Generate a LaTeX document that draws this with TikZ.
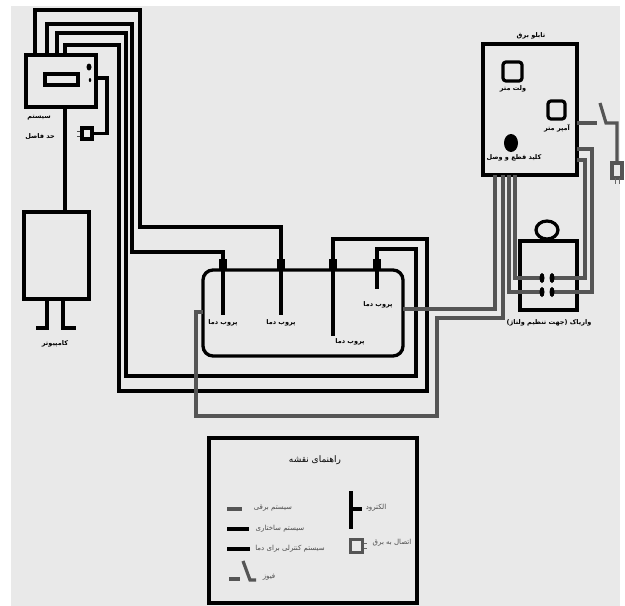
\documentclass[tikz,border=0pt]{standalone}
\usepackage{fontspec}
\TeXXeTstate=1
\newfontfamily\arabicfont[Script=Arabic]{DejaVu Sans}
\definecolor{bgc}{HTML}{E9E9E9}
\definecolor{wirec}{HTML}{555555}
\usetikzlibrary{shapes.geometric}
\tikzset{
  blk/.style={draw=black,line width=3.3pt,line join=miter},
  probewire/.style={draw=black,line width=3.2pt},
  grw/.style={draw=wirec,line width=3.2pt,line join=miter},
  lbl/.style={font=\arabicfont\bfseries\fontsize{6.5}{7}\selectfont,text=black,inner sep=0pt},
  glbl/.style={font=\arabicfont\fontsize{7}{8}\selectfont,text=black!70,inner sep=0pt},
  boxn/.style={draw=black,line width=3.3pt,minimum width=#1,inner sep=0pt,outer sep=0pt,anchor=north west},
  flange/.style={fill=black,minimum width=8pt,minimum height=11pt,inner sep=0pt,outer sep=0pt},
  contact/.style={ellipse,fill=black,minimum width=5pt,minimum height=10pt,inner sep=0pt},
}
\begin{document}
\begin{tikzpicture}[x=1pt,y=-1pt]
\useasboundingbox (0,0) rectangle (625,606);
\fill[white] (0,0) rectangle (625,606);
\fill[bgc] (11,6) rectangle (620,606);
% boxes
\node[boxn=70pt,minimum height=52pt] (ctrl) at (26,55) {};
\node[boxn=33pt,minimum height=11pt] (disp) at (45,74) {};
\node[fill=black,ellipse,minimum width=5pt,minimum height=7pt,inner sep=0pt] (led1) at (89,67) {};
\node[fill=black,ellipse,minimum width=2.5pt,minimum height=4pt,inner sep=0pt] (led2) at (90,80) {};
\node[boxn=65pt,minimum height=87pt] (comp) at (24,212) {};
\node[boxn=10pt,minimum height=11pt] (plugA) at (82,128) {};
\node[boxn=94pt,minimum height=131pt] (panel) at (483,44) {};
\node[draw=black,line width=3.2pt,rounded corners=3pt,minimum width=19pt,minimum height=19pt,inner sep=0pt,outer sep=0pt] (volt) at (512.5,71.5) {};
\node[draw=black,line width=3.2pt,rounded corners=3pt,minimum width=17pt,minimum height=18pt,inner sep=0pt,outer sep=0pt] (amp) at (556.5,110) {};
\node[fill=black,ellipse,minimum width=14pt,minimum height=18pt,inner sep=0pt] (knob) at (511,143) {};
\node[boxn=57pt,minimum height=69pt] (variac) at (520,241) {};
\node[draw=black,ellipse,line width=3.2pt,minimum width=22pt,minimum height=18pt,inner sep=0pt,outer sep=0pt] (dial) at (547,230) {};
\node[draw=black,line width=3.3pt,rounded corners=10pt,minimum width=200pt,minimum height=86pt,inner sep=0pt,outer sep=0pt,anchor=north west] (tank) at (203,270) {};
\node[boxn=208pt,minimum height=165pt] (legend) at (209,438) {};
\node[draw=wirec,line width=3.2pt,minimum width=10pt,minimum height=15pt,inner sep=0pt,outer sep=0pt] (plugB) at (617,170.5) {};
\node[draw=wirec,line width=3.2pt,minimum width=12pt,minimum height=13pt,inner sep=0pt,outer sep=0pt] (plugC) at (356.5,546) {};
% flanges
\node[flange] (f1) at (223,264.5) {};
\node[flange] (f2) at (281,264.5) {};
\node[flange] (f3) at (333,264.5) {};
\node[flange] (f4) at (377,264.5) {};
% probe ends
\coordinate (p1) at (223,315);
\coordinate (p2) at (281,315);
\coordinate (p3) at (333,336);
\coordinate (p4) at (377,289);
\draw[probewire] (f1.center) -- (p1);
\draw[probewire] (f2.center) -- (p2);
\draw[probewire] (f3.center) -- (p3);
\draw[probewire] (f4.center) -- (p4);
% control wires
\draw[blk] (35,55) -- (35,10) -- (140,10) -- (140,227) -- (281,227) -- (f2);
\draw[blk] (47,55) -- (47,24) -- (132,24) -- (132,252) -- (223,252) -- (f1);
\draw[blk] (57,55) -- (57,33) -- (126,33) -- (126,376) -- (416,376) -- (416,249) -- (377,249) -- (f4);
\draw[blk] (65,55) -- (65,45) -- (119,45) -- (119,391) -- (427,391) -- (427,239) -- (333,239) -- (f3);
% controller side
\draw[probewire] (65,107) -- (65,212);
\draw[blk] (96,78) -- (107,78) -- (107,133.5) -- (plugA.east);
\draw[black!70,line width=.6pt] (77,131.5) -- (80,131.5) (77,136) -- (80,136);
% computer legs
\draw[blk] (47,299) -- (47,328) -- (36,328);
\draw[blk] (63,299) -- (63,328) -- (76,328);
% grey wires
\draw[grw] (203,312) -- (196,312) -- (196,416) -- (437,416) -- (437,318) -- (503,318) -- (503,175);
\draw[grw] (403,309) -- (495,309) -- (495,175);
\draw[grw] (509,175) -- (509,292) -- (541,292);
\draw[grw] (515,175) -- (515,278) -- (541,278);
\draw[grw] (553,278) -- (585,278) -- (585,160) -- (577,160);
\draw[grw] (553,292) -- (592,292) -- (592,149) -- (577,149);
% contacts
\node[contact] (c1) at (542,278) {};
\node[contact] (c2) at (542,292) {};
\node[contact] (c3) at (552,278) {};
\node[contact] (c4) at (552,292) {};
% switch
\draw[grw] (577,123) -- (597,123);
\draw[grw] (600,103) -- (606,123) -- (617,123) -- (plugB.north);
\draw[black!60,line width=.7pt] (615.5,178) -- (615.5,184) (619,178) -- (619,184);
% labels
\node[lbl] (t1) at (39,118) {\beginR سیستم\endR};
\node[lbl] (t2) at (40,137) {\beginR حد فاصل\endR};
\node[lbl] (t3) at (55,344) {\beginR کامپیوتر\endR};
\node[lbl] (t4) at (531,36) {\beginR تابلو برق\endR};
\node[lbl] (t5) at (513,89) {\beginR ولت متر\endR};
\node[lbl] (t6) at (557,128) {\beginR آمپر متر\endR};
\node[lbl] (t7) at (514,158) {\beginR کلید قطع و وصل\endR};
\node[lbl] (t8) at (549,323) {\beginR واریاک (جهت تنظیم ولتاژ)\endR};
\node[lbl] (t9) at (223,323) {\beginR پروب دما\endR};
\node[lbl] (t10) at (281,323) {\beginR پروب دما\endR};
\node[lbl] (t11) at (350,342) {\beginR پروب دما\endR};
\node[lbl] (t12) at (378,305) {\beginR پروب دما\endR};
% legend
\node[font=\arabicfont\fontsize{9}{10}\selectfont,inner sep=0pt] (lt) at (315,460) {\beginR راهنمای نقشه\endR};
\coordinate (a1) at (227,509); \coordinate (a2) at (242,509);
\coordinate (b1) at (227,529); \coordinate (b2) at (249,529);
\coordinate (d1) at (227,549); \coordinate (d2) at (250,549);
\draw[grw,line width=4pt] (a1) -- (a2);
\draw[blk,line width=3.6pt] (b1) -- (b2);
\draw[blk,line width=3.6pt] (d1) -- (d2);
\node[glbl] (l1) at (273,508) {\beginR سیستم برقی\endR};
\node[glbl] (l2) at (280,529) {\beginR سیستم ساختاری\endR};
\node[glbl] (l3) at (290,549) {\beginR سیستم کنترلی برای دما\endR};
\node[glbl] (l4) at (269,577) {\beginR فیوز\endR};
\node[glbl] (l5) at (376,508) {\beginR الکترود\endR};
\node[glbl] (l6) at (392,543) {\beginR اتصال به برق\endR};
\coordinate (e1) at (351,491); \coordinate (e2) at (351,529);
\coordinate (e3) at (351,509); \coordinate (e4) at (362,509);
\draw[probewire] (e1) -- (e2);
\draw[probewire] (e3) -- (e4);
\coordinate (fa) at (229,579); \coordinate (fb) at (240,579);
\coordinate (fc) at (243,561); \coordinate (fd) at (250,580); \coordinate (fe) at (256,580);
\draw[grw] (fa) -- (fb);
\draw[grw] (fc) -- (fd) -- (fe);
\draw[black!60,line width=.7pt] (364,543.5) -- (367,543.5) (364,548.5) -- (367,548.5);
\end{tikzpicture}
\end{document}
